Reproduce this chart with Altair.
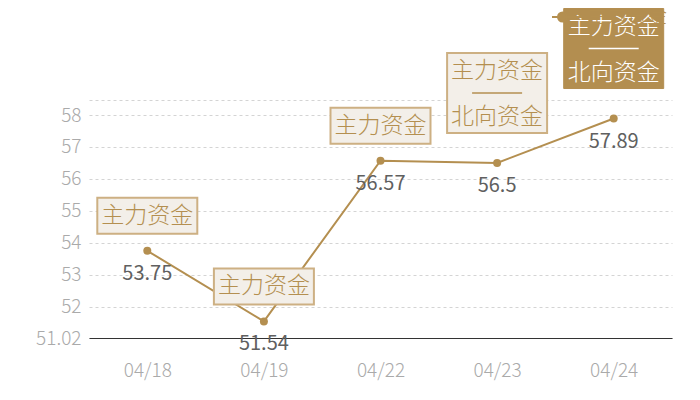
import altair as alt
import pandas as pd

dates = ["04/18", "04/19", "04/22", "04/23", "04/24"]
values = [53.75, 51.54, 56.57, 56.5, 57.89]
labels = ["53.75", "51.54", "56.57", "56.5", "57.89"]
line1 = ["主力资金", "主力资金", "主力资金", "主力资金", "主力资金"]
line2 = ["", "", "", "北向资金", "北向资金"]
kind = ["single", "single", "single", "double", "dark"]
series = ["主力资金"] * 5

y_min, y_max = 51.02, 58.47
y_ticks = [51.02, 52, 53, 54, 55, 56, 57, 58, 58.47]

df = pd.DataFrame({"date": dates, "value": values, "label": labels,
                   "line1": line1, "line2": line2, "kind": kind, "series": series})

GOLD = "#b48f50"
FONT = "Noto Sans CJK SC"
W = 300

x = alt.X("date:N", sort=dates, title=None,
          scale=alt.Scale(type="point", padding=0.5),
          axis=alt.Axis(labelFontSize=19, labelColor="#aaaaaa", labelPadding=23,
                        labelFontWeight=W,
                        ticks=False, domainColor="#333333", domainWidth=1,
                        labelFont=FONT, labelAngle=0))
y = alt.Y("value:Q", title=None,
          scale=alt.Scale(domain=[y_min, y_max], nice=False, zero=False),
          axis=alt.Axis(values=y_ticks, labelFontSize=19, labelColor="#aaaaaa",
                        labelFont=FONT, labelFontWeight=W, ticks=False, domain=False,
                        labelPadding=8,
                        labelExpr="datum.value > 58.3 ? '' : format(datum.value, '.4~')",
                        gridColor="#d4d4d4", gridDash=[3, 3], gridWidth=1))

base = alt.Chart(df)

line = base.mark_line(strokeWidth=2).encode(
    x=x, y=y,
    color=alt.Color("series:N", scale=alt.Scale(range=[GOLD]),
                    legend=alt.Legend(title=None, orient="none", legendX=462, legendY=-99,
                                      labelFont=FONT, labelFontSize=20, labelColor=GOLD,
                                      labelFontWeight=W,
                                      symbolType="M-1,0L1,0M-0.6,0A0.3,0.3,0,1,1,0,0A0.3,0.3,0,1,1,-0.6,0Z",
                                      symbolSize=900, symbolStrokeWidth=2,
                                      symbolFillColor=GOLD, symbolStrokeColor=GOLD)))
pts = base.mark_circle(size=64, color=GOLD, opacity=1).encode(x=x, y=y)
vals = base.mark_text(dy=23, fontSize=20, color="#606060", font=FONT, fontWeight=400).encode(
    x=x, y=y, text="label:N")

single_path = "M-1,-0.36L1,-0.36L1,0.36L-1,0.36Z"
double_path = "M-1,-0.8L1,-0.8L1,0.8L-1,0.8Z"

box_single = base.transform_filter("datum.kind == 'single'").mark_point(
    shape=single_path, size=10000, filled=True, fill="#f3efe9", stroke="#cdb083",
    strokeWidth=2, opacity=1, yOffset=-35).encode(x=x, y=y)
box_double = base.transform_filter("datum.kind == 'double'").mark_point(
    shape=double_path, size=10000, filled=True, fill="#f3efe9", stroke="#cdb083",
    strokeWidth=2, opacity=1, yOffset=-70).encode(x=x, y=y)
box_dark = base.transform_filter("datum.kind == 'dark'").mark_point(
    shape=double_path, size=10000, filled=True, fill="#b38e50", stroke="#b38e50",
    strokeWidth=1, opacity=1, yOffset=-70).encode(x=x, y=y)

TS = 23
t_single = base.transform_filter("datum.kind == 'single'").mark_text(
    dy=-35, fontSize=TS, color=GOLD, font=FONT, fontWeight=W).encode(
    x=x, y=y, text="line1:N")
t_double1 = base.transform_filter("datum.kind != 'single'").mark_text(
    dy=-92, fontSize=TS, font=FONT, fontWeight=W).encode(
    x=x, y=y, text="line1:N",
    color=alt.condition("datum.kind == 'dark'", alt.value("#ffffff"), alt.value(GOLD)))
t_double2 = base.transform_filter("datum.kind != 'single'").mark_text(
    dy=-46, fontSize=TS, font=FONT, fontWeight=W).encode(
    x=x, y=y, text="line2:N",
    color=alt.condition("datum.kind == 'dark'", alt.value("#ffffff"), alt.value(GOLD)))
divider = base.transform_filter("datum.kind != 'single'").mark_rule(
    strokeWidth=1.5, xOffset=-25, x2Offset=25, yOffset=-70, y2Offset=-70).encode(
    x=x, x2=alt.X2("date:N"), y=y, y2=alt.Y2("value:Q"),
    color=alt.condition("datum.kind == 'dark'", alt.value("#ffffff"), alt.value(GOLD)))

chart = alt.layer(line, pts, vals, box_single, box_double, box_dark,
                  t_single, t_double1, t_double2, divider).properties(
    width=583, height=238,
    autosize=alt.AutoSizeParams(type="none"),
    padding={"left": 81, "top": 92, "right": 16, "bottom": 62},
).configure_view(stroke=None).configure_axisY(grid=True).configure_axisX(grid=False)

chart.save("out.html", embed_options={"renderer": "svg", "actions": False})
